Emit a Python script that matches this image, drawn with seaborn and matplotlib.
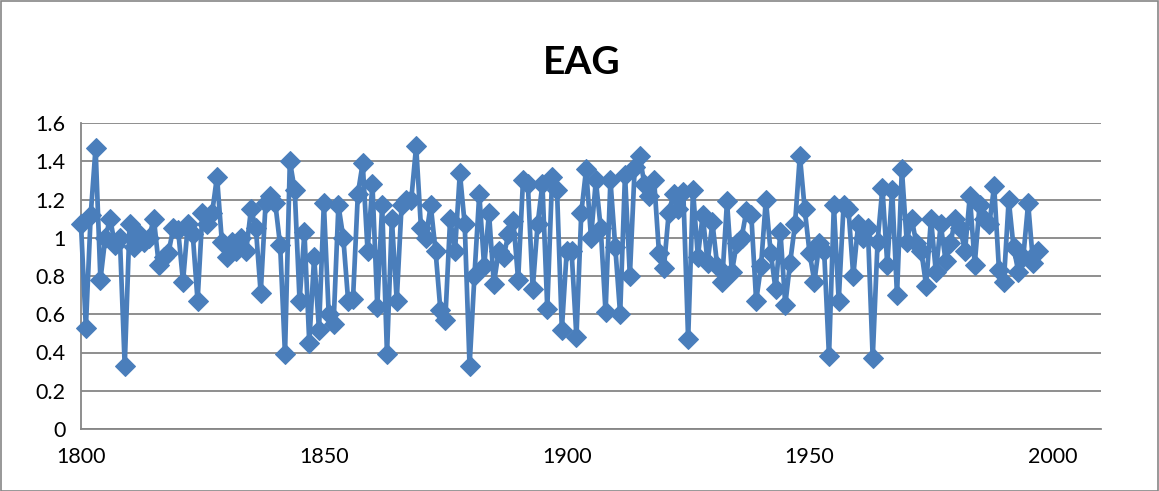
import matplotlib
matplotlib.use("Agg")
import matplotlib.pyplot as plt
import matplotlib.ticker as mticker
from matplotlib.patches import Rectangle
import seaborn as sns
import pandas as pd

sns.set_theme(style="white")
plt.rcParams["font.family"] = ["Lato", "DejaVu Sans"]

years = list(range(1800, 1998))
eag = [
    1.07, 0.53, 1.12, 1.47, 0.78, 1.00, 1.10, 0.96, 1.00, 0.33,
    1.07, 0.95, 1.02, 0.98, 1.00, 1.10, 0.86, 0.90, 0.92, 1.05,
    1.04, 0.77, 1.07, 1.02, 0.67, 1.13, 1.07, 1.13, 1.32, 0.98,
    0.90, 0.98, 0.93, 1.00, 0.93, 1.15, 1.05, 0.71, 1.18, 1.22,
    1.18, 0.96, 0.39, 1.40, 1.25, 0.67, 1.03, 0.45, 0.90, 0.52,
    1.18, 0.60, 0.55, 1.17, 1.00, 0.67, 0.68, 1.23, 1.39, 0.93,
    1.28, 0.64, 1.17, 0.39, 1.10, 0.67, 1.17, 1.20, 1.20, 1.48,
    1.05, 1.00, 1.17, 0.93, 0.62, 0.57, 1.10, 0.93, 1.34, 1.07,
    0.33, 0.80, 1.23, 0.85, 1.13, 0.76, 0.93, 0.90, 1.02, 1.09,
    0.78, 1.30, 1.28, 0.73, 1.07, 1.28, 0.63, 1.32, 1.25, 0.52,
    0.93, 0.93, 0.48, 1.13, 1.36, 1.00, 1.30, 1.05, 0.61, 1.30,
    0.95, 0.60, 1.33, 0.80, 1.37, 1.43, 1.28, 1.22, 1.30, 0.92,
    0.84, 1.13, 1.23, 1.15, 1.24, 0.47, 1.25, 0.90, 1.12, 0.87,
    1.08, 0.85, 0.77, 1.19, 0.82, 0.97, 1.00, 1.14, 1.12, 0.67,
    0.85, 1.20, 0.92, 0.73, 1.03, 0.65, 0.87, 1.07, 1.43, 1.15,
    0.92, 0.77, 0.97, 0.93, 0.38, 1.17, 0.67, 1.17, 1.15, 0.80,
    1.07, 1.00, 1.05, 0.37, 0.98, 1.26, 0.86, 1.25, 0.70, 1.36,
    0.98, 1.10, 0.97, 0.93, 0.75, 1.10, 0.82, 1.07, 0.88, 0.97,
    1.10, 1.05, 0.93, 1.22, 0.86, 1.17, 1.10, 1.07, 1.27, 0.83,
    0.77, 1.20, 0.95, 0.82, 0.90, 1.18, 0.87, 0.93,
]
x_ticks = [1800, 1850, 1900, 1950, 2000]
y_ticks = [0, 0.2, 0.4, 0.6, 0.8, 1.0, 1.2, 1.4, 1.6]

df = pd.DataFrame({"Year": years, "EAG": eag})

W, H = 1159, 491
fig = plt.figure(figsize=(W / 100, H / 100), dpi=100)
fig.patches.append(Rectangle((0.5 / W, 0.5 / H), 1 - 1.5 / W, 1 - 1.5 / H,
                             transform=fig.transFigure, fill=False,
                             edgecolor="#868686", linewidth=1.2))

ax = fig.add_axes([81 / W, (H - 429) / H, (1101 - 81) / W, (429 - 123) / H])

blue = "#4A7EBB"
sns.lineplot(data=df, x="Year", y="EAG", ax=ax, color=blue, linewidth=3.4,
             marker="D", markersize=10, markeredgecolor=blue,
             markerfacecolor=blue, clip_on=False, zorder=3)

ax.set_xlim(1800, 2010)
ax.set_ylim(0, 1.6)
ax.set_xticks(x_ticks)
ax.set_yticks(y_ticks)
ax.yaxis.set_major_formatter(mticker.FuncFormatter(lambda v, p: f"{v:g}"))
ax.grid(axis="y", color="#868686", linewidth=1.3)
ax.set_axisbelow(True)
for s in ["top", "right"]:
    ax.spines[s].set_visible(False)
ax.spines["left"].set_color("#868686")
ax.spines["bottom"].set_color("#868686")
ax.spines["left"].set_linewidth(1.3)
ax.spines["bottom"].set_linewidth(1.3)
ax.tick_params(axis="both", which="major", direction="out", length=5,
               width=1, color="#868686", labelsize=15.5, labelcolor="black")
ax.tick_params(axis="x", pad=8)
ax.tick_params(axis="y", pad=6)
ax.set_xlabel("")
ax.set_ylabel("")

fig.text(582 / W, 1 - 62 / H, "EAG", ha="center", va="center",
         fontsize=28, fontweight="bold", color="black")

fig.savefig("out.png", dpi=100)
